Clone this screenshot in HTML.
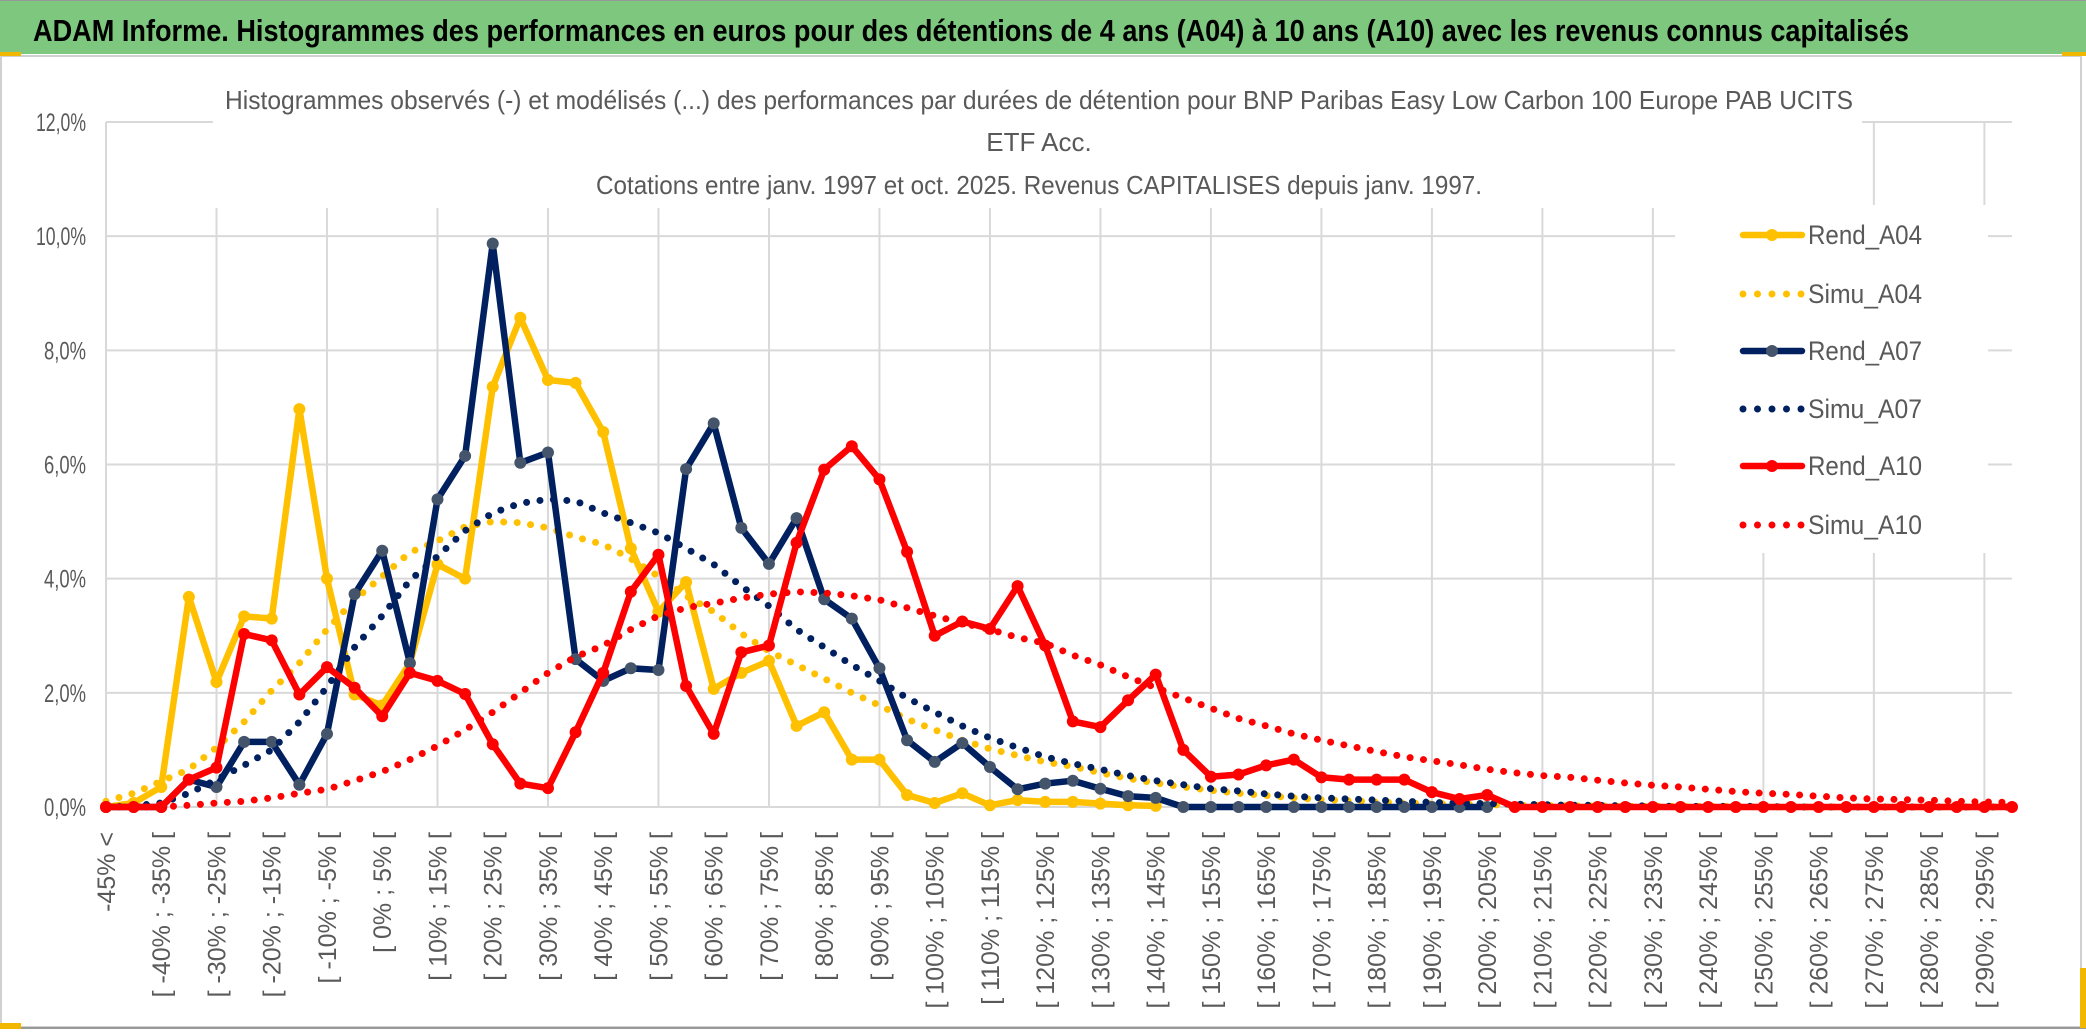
<!DOCTYPE html>
<html><head><meta charset="utf-8"><style>
html,body{margin:0;padding:0;background:#fff;}
svg{display:block;}
text{font-family:"Liberation Sans",sans-serif;}
</style></head><body>
<svg id="chart" width="2086" height="1033" viewBox="0 0 2086 1033" xmlns="http://www.w3.org/2000/svg">
<rect x="0" y="0" width="2086" height="1033" fill="#fff"/>
<rect x="0" y="0" width="2086" height="54" fill="#7DC77E"/>
<line x1="0" y1="0.5" x2="2086" y2="0.5" stroke="#999"/>
<text x="33" y="41" font-size="31" font-weight="bold" fill="#000" textLength="1876" lengthAdjust="spacingAndGlyphs">ADAM Informe. Histogrammes des performances en euros pour des détentions de 4 ans (A04) à 10 ans (A10) avec les revenus connus capitalisés</text>
<rect x="1" y="56" width="2080" height="971" fill="#fff" stroke="#d0d0d0" stroke-width="2"/>
<line x1="0" y1="1028" x2="2086" y2="1028" stroke="#999" stroke-width="2"/>
<rect x="0" y="52" width="21" height="4" fill="#F2B700"/>
<rect x="0" y="1023" width="21" height="6" fill="#F2B700"/>
<rect x="2062" y="52" width="24" height="4" fill="#F2B700"/>
<rect x="2080" y="968" width="6" height="60" fill="#F2B700"/>
<g id="grid"></g>
<rect x="213" y="90" width="1649" height="118" fill="#fff"/>
<rect x="1675" y="205" width="313" height="348" fill="#fff"/>
<g fill="#595959" font-size="26" text-anchor="middle">
<text x="1039" y="109" textLength="1628" lengthAdjust="spacingAndGlyphs">Histogrammes observés (-) et modélisés (...) des performances par durées de détention pour BNP Paribas Easy Low Carbon 100 Europe PAB UCITS</text>
<text x="1039" y="151">ETF Acc.</text>
<text x="1039" y="194" textLength="886" lengthAdjust="spacingAndGlyphs">Cotations entre janv. 1997 et oct. 2025. Revenus CAPITALISES depuis janv. 1997.</text>
</g>
<g id="yaxis"></g>
<g id="xaxis"></g>
<g id="series"></g>
<g id="legend"></g>
</svg>
<script>
const yTicks = [0, 2, 4, 6, 8, 10, 12];
const yTickLabels = ["0,0%", "2,0%", "4,0%", "6,0%", "8,0%", "10,0%", "12,0%"];
const seriesNames = ["Rend_A04", "Simu_A04", "Rend_A07", "Simu_A07", "Rend_A10", "Simu_A10"];
const rendA04 = [0,0.07,0.35,3.68,2.19,3.34,3.30,6.97,4.0,1.97,1.78,2.52,4.25,4.0,7.36,8.57,7.48,7.43,6.57,4.53,3.42,3.94,2.07,2.35,2.56,1.42,1.66,0.83,0.83,0.21,0.07,0.24,0.03,0.12,0.09,0.09,0.06,0.03,0.02];
const simuA04 = [0.1,0.24,0.45,0.66,1.04,1.49,2.04,2.52,3.11,3.63,4.04,4.46,4.66,4.91,5.0,4.98,4.89,4.73,4.6,4.35,4.04,3.7,3.42,3.04,2.73,2.49,2.25,2.0,1.78,1.54,1.35,1.17,1.02,0.9,0.79,0.71,0.6,0.5,0.42,0.35,0.29,0.24,0.2,0.16,0.13,0.11,0.09,0.07,0.06,0.05,0.04,0.03,0.03,0.02,0.02,0.01,0.01,0.01,0.01,0.01,0,0,0,0,0,0,0,0,0,0];
const rendA07 = [0,0,0,0.48,0.35,1.14,1.14,0.39,1.28,3.73,4.49,2.52,5.39,6.15,9.87,6.03,6.21,2.59,2.21,2.43,2.40,5.92,6.72,4.89,4.26,5.06,3.64,3.30,2.43,1.17,0.79,1.12,0.70,0.31,0.41,0.46,0.32,0.19,0.16,0,0,0,0,0,0,0,0,0,0,0,0];
const simuA07 = [0,0.02,0.07,0.24,0.48,0.73,1.0,1.49,2.1,2.8,3.35,3.97,4.39,4.84,5.15,5.32,5.39,5.36,5.15,4.98,4.8,4.53,4.25,3.87,3.52,3.11,2.8,2.49,2.21,1.91,1.66,1.42,1.21,1.04,0.88,0.76,0.66,0.55,0.46,0.39,0.32,0.28,0.23,0.19,0.16,0.14,0.12,0.10,0.08,0.07,0.06,0.05,0.04,0.03,0.03,0.02,0.02,0.01,0.01,0.01,0.01,0,0,0,0,0,0,0,0,0];
const rendA10 = [0,0,0,0.48,0.69,3.03,2.92,1.97,2.45,2.09,1.59,2.35,2.21,1.98,1.10,0.41,0.33,1.31,2.35,3.77,4.42,2.12,1.28,2.71,2.83,4.63,5.91,6.32,5.74,4.47,3.0,3.25,3.12,3.87,2.83,1.5,1.40,1.87,2.32,1.0,0.53,0.57,0.73,0.83,0.52,0.48,0.48,0.48,0.26,0.14,0.21,0,0,0,0,0,0,0,0,0,0,0,0,0,0,0,0,0,0,0];
const simuA10 = [0,0,0,0.03,0.07,0.1,0.16,0.24,0.31,0.46,0.62,0.83,1.07,1.35,1.66,2.0,2.35,2.63,2.83,3.11,3.35,3.49,3.57,3.66,3.73,3.77,3.75,3.7,3.63,3.49,3.35,3.22,3.11,2.97,2.87,2.66,2.49,2.28,2.09,1.91,1.73,1.55,1.42,1.28,1.17,1.07,0.97,0.88,0.81,0.74,0.66,0.6,0.55,0.52,0.47,0.42,0.38,0.35,0.31,0.27,0.24,0.22,0.19,0.16,0.14,0.13,0.12,0.1,0.09,0.08];

const NS = "http://www.w3.org/2000/svg";
const categories = ["-45% <"];
for (let lo = -45; lo < 300; lo += 5) categories.push("[ " + lo + "% ; " + (lo + 5) + "% [");
const nCat = 70;
const X0 = 106, X1 = 2012, Y0 = 807, Y12 = 122;
function xs(i){ return X0 + (X1 - X0) * i / (nCat - 1); }
function ys(v){ return Y0 - (Y0 - Y12) * v / 12; }
function mk(tag, attrs, parent){ const e = document.createElementNS(NS, tag); for (const k in attrs) e.setAttribute(k, attrs[k]); parent.appendChild(e); return e; }

const grid = document.getElementById('grid');
yTicks.forEach((t, k) => {
  const l = mk('line', {x1: X0, x2: X1, y1: ys(t), y2: ys(t), stroke: '#D9D9D9', 'stroke-width': 2}, grid);
  
  
});
for (let i = 0; i < nCat; i += 4) {
  const l = mk('line', {x1: xs(i), x2: xs(i), y1: Y12, y2: Y0, stroke: '#D9D9D9', 'stroke-width': 2}, grid);
  
  
}
const yaxis = document.getElementById('yaxis');
yTicks.forEach((t, k) => {
  const tx = mk('text', {x: 86, y: ys(t) + 9, 'text-anchor': 'end', 'font-size': 25, fill: '#595959', textLength: (k >= 5 ? 50 : 42), lengthAdjust: 'spacingAndGlyphs'}, yaxis);
  tx.textContent = yTickLabels[k];
  
  
});
const xaxis = document.getElementById('xaxis');
for (let i = 0; i < nCat; i += 2) {
  const x = xs(i) + 9;
  const tx = mk('text', {x: 0, y: 0, 'text-anchor': 'end', 'font-size': 25, fill: '#595959', transform: 'translate(' + x + ',832) rotate(-90)'}, xaxis);
  tx.textContent = categories[i];
  
  
}
const seriesG = document.getElementById('series');
const defs = [
  {data: rendA04, color: '#FFC000', marker: '#FFC000', dotted: false},
  {data: simuA04, color: '#FFC000', dotted: true},
  {data: rendA07, color: '#002060', marker: '#44546A', dotted: false},
  {data: simuA07, color: '#002060', dotted: true},
  {data: rendA10, color: '#FF0000', marker: '#FF0000', dotted: false},
  {data: simuA10, color: '#FF0000', dotted: true}
];
defs.forEach((d, si) => {
  const pts = d.data.map((v, i) => xs(i).toFixed(1) + ',' + ys(v).toFixed(1)).join(' ');
  const attrs = {points: pts, fill: 'none', stroke: d.color, 'stroke-linejoin': 'round', 'stroke-linecap': 'round'};
  if (d.dotted) { attrs['stroke-width'] = 7; attrs['stroke-dasharray'] = '0 13.5'; }
  else attrs['stroke-width'] = 6.5;
  const pl = mk('polyline', attrs, seriesG);
  
  
  if (!d.dotted) {
    d.data.forEach((v, i) => {
      const c = mk('circle', {cx: xs(i), cy: ys(v), r: 6, fill: d.marker}, seriesG);
      
      
    });
  }
});
const legend = document.getElementById('legend');
const legendY = [235, 294, 351, 409, 466, 525];
defs.forEach((d, si) => {
  const y = legendY[si];
  const g = mk('g', {}, legend);
  
  
  if (d.dotted) {
    mk('line', {x1: 1743, x2: 1802, y1: y, y2: y, stroke: d.color, 'stroke-width': 7, 'stroke-dasharray': '0 14.5', 'stroke-linecap': 'round'}, g);
  } else {
    mk('line', {x1: 1743, x2: 1802, y1: y, y2: y, stroke: d.color, 'stroke-width': 6.5, 'stroke-linecap': 'round'}, g);
    mk('circle', {cx: 1772, cy: y, r: 6, fill: d.marker}, g);
  }
  const t = mk('text', {x: 1808, y: y + 9, 'font-size': 27, fill: '#595959', textLength: 114, lengthAdjust: 'spacingAndGlyphs'}, g);
  t.textContent = seriesNames[si];
});
</script>
</body></html>
